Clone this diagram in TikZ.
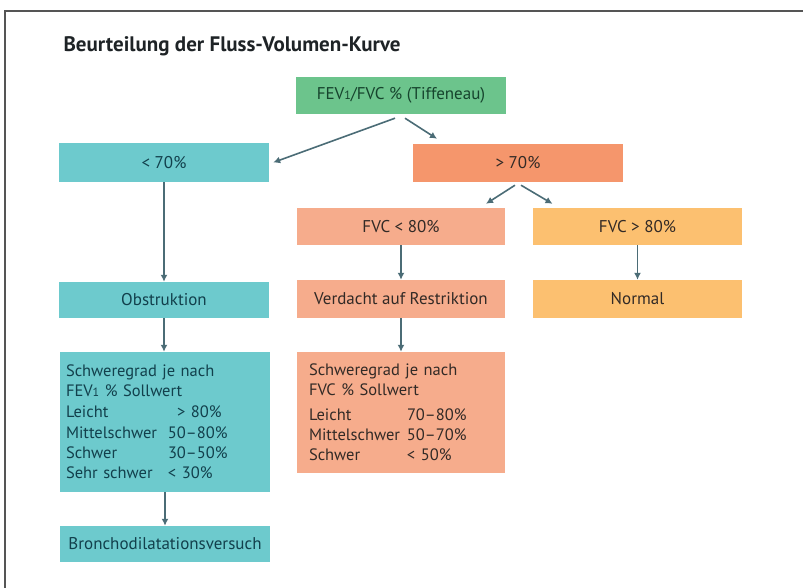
\documentclass[tikz,border=0pt]{standalone}
\usepackage{fontspec}
\setmainfont{PT Sans}
\usetikzlibrary{arrows.meta}
\definecolor{tealbox}{RGB}{109,202,205}
\definecolor{tealtext}{RGB}{18,64,76}
\definecolor{greenbox}{RGB}{108,196,140}
\definecolor{greentext}{RGB}{22,68,45}
\definecolor{orangebox}{RGB}{245,150,108}
\definecolor{salmonbox}{RGB}{246,172,140}
\definecolor{yellowbox}{RGB}{252,192,112}
\definecolor{browntext}{RGB}{50,42,38}
\definecolor{arrowc}{RGB}{75,108,118}
\definecolor{framec}{RGB}{85,85,85}
\definecolor{titlec}{RGB}{30,35,38}
\newcommand{\oldone}{{\fontsize{12}{12}\selectfont 1}}
\begin{document}
\begin{tikzpicture}[x=1pt,y=-1pt,
  box/.style={rectangle, inner sep=0pt, font=\fontsize{17}{20}\selectfont},
  tealb/.style={box, fill=tealbox, text=tealtext},
  greenb/.style={box, fill=greenbox, text=greentext},
  orangeb/.style={box, fill=orangebox, text=browntext},
  salmonb/.style={box, fill=salmonbox, text=browntext},
  yellowb/.style={box, fill=yellowbox, text=browntext},
  detail/.style={font=\fontsize{16.5}{20}\selectfont, align=left},
  arr/.style={draw=arrowc, line width=1.6pt, -{Latex[length=7pt,width=7pt]}}]
\useasboundingbox (0,0) rectangle (803,588);
\draw[line width=1.2pt, framec] (803,11) -- (5,11) -- (5,588);

\node[font=\fontsize{21}{24}\selectfont\bfseries, text=titlec, anchor=west] (title) at (60,46) {Beurteilung der Fluss-Volumen-Kurve};

\node[greenb, minimum width=210pt, minimum height=37pt] (top) at (401,95.5) {FEV\oldone/FVC \% (Tiffeneau)};

\node[tealb, minimum width=210pt, minimum height=39pt] (lt70) at (164,162.5) {< 70\%};
\node[orangeb, minimum width=210pt, minimum height=38pt] (gt70) at (518,163) {> 70\%};

\node[salmonb, minimum width=208pt, minimum height=37pt] (fvclt) at (401,226.5) {FVC < 80\%};
\node[yellowb, minimum width=209pt, minimum height=37pt] (fvcgt) at (637.5,226.5) {FVC > 80\%};

\node[tealb, minimum width=210pt, minimum height=36pt] (obst) at (164,300) {Obstruktion};
\node[salmonb, minimum width=208pt, minimum height=38pt] (verd) at (401,299) {Verdacht auf Restriktion};
\node[yellowb, minimum width=209pt, minimum height=38pt] (normal) at (637.5,299) {Normal};

\node[tealb, detail, minimum width=210pt, minimum height=140pt, text width=198pt] (sevL) at (165,422)
  {Schweregrad je nach\\
   FEV\oldone{} \% Sollwert\\[1pt]
   \makebox[102pt][l]{Leicht}\hspace{9pt}> 80\%\\[1pt]
   \makebox[102pt][l]{Mittelschwer}50--80\%\\
   \makebox[102pt][l]{Schwer}30--50\%\\
   \makebox[102pt][l]{Sehr schwer}< 30\%};

\node[salmonb, detail, minimum width=208pt, minimum height=121pt, text width=184pt] (sevM) at (401,412.5)
  {Schweregrad je nach\\
   FVC \% Sollwert\\[5pt]
   \makebox[98pt][l]{Leicht}70--80\%\\
   \makebox[98pt][l]{Mittelschwer}50--70\%\\
   \makebox[98pt][l]{Schwer}< 50\%};

\node[tealb, minimum width=210pt, minimum height=36pt] (broncho) at (165,544) {Bronchodilatationsversuch};

\draw[arr] ([xshift=-6pt,yshift=-4pt]top.south) -- ([xshift=4pt]lt70.east);
\draw[arr] ([xshift=4pt,yshift=-4pt]top.south) -- ([xshift=-81pt,yshift=5pt]gt70.north);
\draw[arr] ([xshift=-3pt,yshift=-3pt]gt70.south) -- ([xshift=85pt,yshift=4pt]fvclt.north);
\draw[arr] ([xshift=3pt,yshift=-3pt]gt70.south) -- ([xshift=-85pt,yshift=4pt]fvcgt.north);

\draw[arr] (lt70.south) -- (obst.north);
\draw[arr] (obst.south) -- (obst.south |- sevL.north);
\draw[arr] (sevL.south) -- (broncho.north);
\draw[arr] (fvclt.south) -- (verd.north);
\draw[arr] (verd.south) -- (sevM.north);
\draw[arr] (fvcgt.south) -- (normal.north);
\end{tikzpicture}
\end{document}
